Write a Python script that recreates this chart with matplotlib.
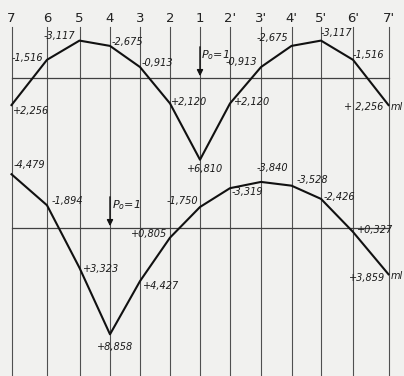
import matplotlib
matplotlib.use("Agg")
import matplotlib.pyplot as plt

# stations along the beam and their positions (unequal panel widths)
stations = ["7", "6", "5", "4", "3", "2", "1", "2'", "3'", "4'", "5'", "6'", "7'"]
station_pos = [11.5, 47, 79.5, 110, 140, 170, 200, 230, 261, 291.5, 321, 353, 388.5]

# influence line ordinates, load P0=1 at station 1 (top) and station 4 (bottom)
top_values = [2.256, -1.516, -3.117, -2.675, -0.913, 2.120, 6.810,
              2.120, -0.913, -2.675, -3.117, -1.516, 2.256]
bot_values = [-4.479, -1.894, 3.323, 8.858, 4.427, 0.805, -1.750,
              -3.319, -3.840, -3.528, -2.426, 0.327, 3.859]
top_labels = ["+2,256", "-1,516", "-3,117", "-2,675", "-0,913", "+2,120", "+6,810",
              "+2,120", "-0,913", "-2,675", "-3,117", "-1,516", "+ 2,256"]
bot_labels = ["-4,479", "-1,894", "+3,323", "+8,858", "+4,427", "+0,805", "-1,750",
              "-3,319", "-3,840", "-3,528", "-2,426", "+0,327", "+3,859"]
top_load_at = 6   # index of station 1
bot_load_at = 3   # index of station 4

# label placement (offset in pixels, alignment)
top_offsets = [(1, -6, "left"), (-4, 2, "right"), (-4, 5, "right"), (2, 4, "left"),
               (2, 4, "left"), (1, 1, "left"), (5, -9, "center"), (4, 1, "left"),
               (-4, 5, "right"), (-3, 8, "right"), (0, 8, "left"), (0, 5, "left"),
               (-5, -2, "right")]
bot_offsets = [(2, 9, "left"), (5, 4, "left"), (3, -1, "left"), (5, -13, "center"),
               (3, -5, "left"), (-3, 4, "right"), (-2, 6, "right"), (2, -4, "left"),
               (-4, 14, "left"), (5, 6, "left"), (3, 2, "left"), (4, 2, "left"),
               (-3, -4, "right")]

W, H = 404, 376
scale = 12.0  # px per unit
bg = "#f1f1ef"

fig = plt.figure(figsize=(W / 100, H / 100), dpi=100)
fig.patch.set_facecolor(bg)


def make_axes(base_px):
    ax = fig.add_axes([0, 0, 1, 1])
    ax.set_xlim(0, W)
    # positive ordinates plotted downwards
    ax.set_ylim((H - base_px) / scale, -base_px / scale)
    ax.axis("off")
    ax.patch.set_alpha(0)
    return ax


ax_top = make_axes(78)
ax_bot = make_axes(228)

# vertical station lines and numbers
y_line_top = -(78 - 27) / scale
for name, x in zip(stations, station_pos):
    ax_top.plot([x, x], [y_line_top, (H - 78) / scale], color="#505050", lw=0.8)
    ax_top.text(x, -(78 - 18) / scale, name, ha="center", va="center",
                fontsize=9.5, color="#222222")


def draw(ax, values, labels, offsets, load_idx, ptext_dx):
    ax.plot([station_pos[0], station_pos[-1]], [0, 0], color="#404040", lw=0.9)
    ax.plot(station_pos, values, color="#111111", lw=1.5)
    for x, v, lab, (dx, dy, ha) in zip(station_pos, values, labels, offsets):
        ax.annotate(lab, (x, v), xytext=(dx, dy), textcoords="offset pixels",
                    ha=ha, va="center", fontsize=7, style="italic", color="#1a1a1a")
    xl = station_pos[load_idx]
    ax.annotate("", xy=(xl, -0.15), xytext=(xl, -2.6),
                arrowprops=dict(arrowstyle="-|>", color="#111111", lw=1.0,
                                mutation_scale=9, shrinkA=0, shrinkB=0))
    ax.text(xl + ptext_dx, -1.9, "$P_o$=1", ha="left", va="center",
            fontsize=8, style="italic", color="#1a1a1a")
    ax.text(station_pos[-1] + 2, values[-1] + 0.15, "ml", ha="left", va="center",
            fontsize=7, style="italic", color="#1a1a1a")


draw(ax_top, top_values, top_labels, top_offsets, top_load_at, 1)
draw(ax_bot, bot_values, bot_labels, bot_offsets, bot_load_at, 2)

fig.savefig("out.png", dpi=100, facecolor=bg)
